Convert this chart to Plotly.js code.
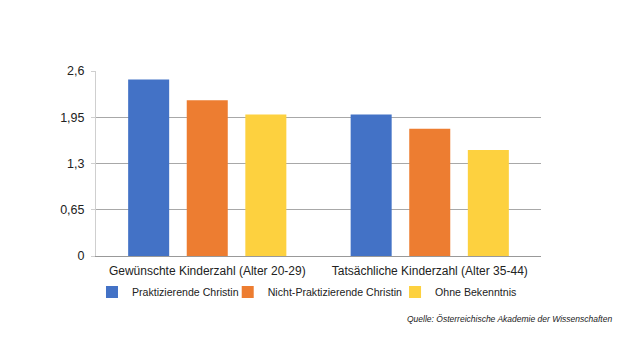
<!DOCTYPE html>
<html><head><meta charset="utf-8">
<script src="https://cdn.plot.ly/plotly-3.0.1.min.js"></script>
<style>html,body{margin:0;padding:0;background:#fff}#chart{width:635px;height:357px}</style>
</head><body><div id="chart"></div>
<script>
const categories = ["Gewünschte Kinderzahl (Alter 20-29)", "Tatsächliche Kinderzahl (Alter 35-44)"];
const seriesNames = ["Praktizierende Christin", "Nicht-Praktizierende Christin", "Ohne Bekenntnis"];
const praktizierend = [2.48, 1.99];
const nichtPraktizierend = [2.19, 1.79];
const ohneBekenntnis = [1.99, 1.49];
const tickValues = [0, 0.65, 1.3, 1.95, 2.6];
const tickLabels = ["0", "0,65", "1,3", "1,95", "2,6"];
const colors = ["#4372C6", "#ED7D31", "#FDD13F"];
const source = "Quelle: Österreichische Akademie der Wissenschaften";

const values = [praktizierend, nichtPraktizierend, ohneBekenntnis];
const legendIds = ["legend", "legend2", "legend3"];
const legendX = [-0.009, 0.296, 0.672];
const data = values.map((v, i) => ({
  type: "bar", x: categories, y: v, name: seriesNames[i], legend: legendIds[i],
  marker: {color: colors[i]}, hoverinfo: "none"
}));
const font = "Liberation Sans, Arial, Helvetica, sans-serif";
const layout = {
  width: 635, height: 357,
  margin: {l: 96, r: 94, t: 71, b: 101},
  paper_bgcolor: "#fff", plot_bgcolor: "#fff",
  barmode: "group", bargap: 0.21, bargroupgap: 0.3,
  font: {family: font, color: "#222", size: 12},
  xaxis: {tickfont: {size: 12, color: "#222"}, showline: true, linecolor: "#999", linewidth: 1, ticks: "",
          ticklabelstandoff: 4, fixedrange: true},
  yaxis: {range: [0, 2.6], tickvals: tickValues, ticktext: tickLabels, tickfont: {size: 12.5, color: "#222"},
          showgrid: true, gridcolor: "#a8a8a8", gridwidth: 1, zeroline: false,
          showline: true, linecolor: "#cfcfcf", linewidth: 1,
          ticks: "outside", ticklen: 4, tickcolor: "#cfcfcf", ticklabelstandoff: 4, fixedrange: true},
  showlegend: true,
  annotations: [{text: "<i>" + source + "</i>", xref: "paper", yref: "paper", x: 0.694, y: -0.34,
                 xanchor: "left", yanchor: "middle", showarrow: false, font: {size: 8.5, color: "#222"}}]
};
legendIds.forEach((id, i) => {
  layout[id] = {orientation: "h", x: legendX[i], xanchor: "left", y: -0.195, yanchor: "middle",
                font: {size: 10.6, color: "#222"}, bgcolor: "rgba(0,0,0,0)"};
});
Plotly.newPlot("chart", data, layout, {displayModeBar: false, staticPlot: true});
</script></body></html>
